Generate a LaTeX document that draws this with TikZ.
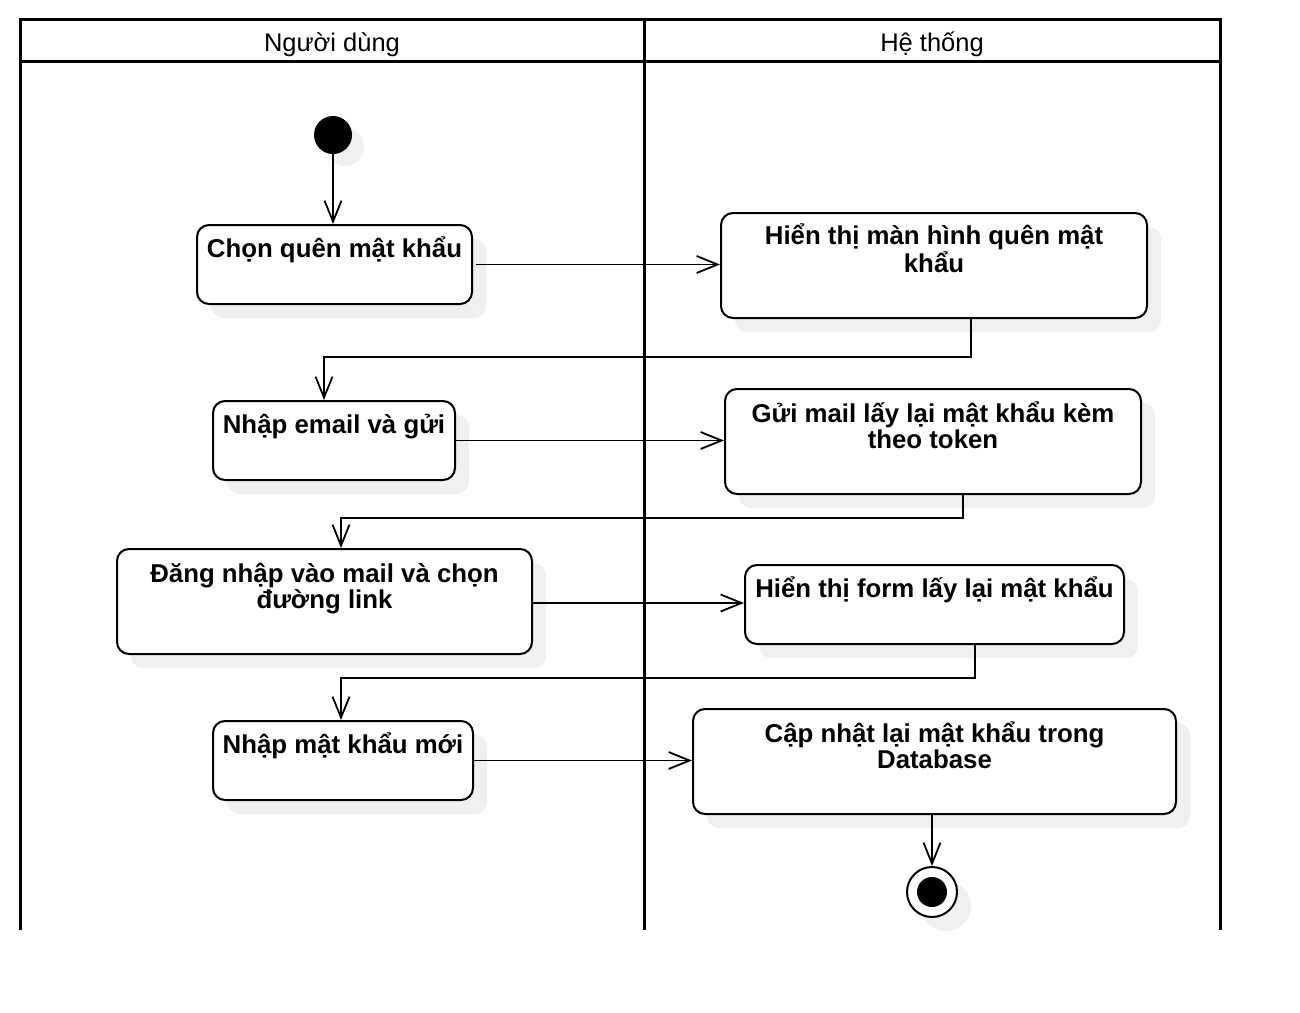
\documentclass[tikz,border=0pt]{standalone}
\usepackage{fontspec}
\setmainfont{Liberation Sans}
\usetikzlibrary{arrows.meta,shadows,calc}
\definecolor{shadowgray}{RGB}{240,240,240}
\tikzset{
  pool/.style={line width=3pt},
  act/.style={draw, line width=2pt, rounded corners=12pt, fill=white, anchor=north west, inner sep=0pt,
    general shadow={fill=shadowgray, shadow xshift=14pt, shadow yshift=-14pt}},
  lbl/.style={font=\bfseries\fontsize{25.8}{26}\selectfont, align=center, inner sep=0pt, anchor=base},
  hdr/.style={font=\fontsize{25.5}{26}\selectfont, inner sep=0pt, anchor=base},
  flow/.style={line width=1.8pt, -{Straight Barb[length=21pt, width=17pt, line width=1.8pt]}},
}
\begin{document}
\begin{tikzpicture}[x=1pt, y=-1pt]
\useasboundingbox (0,0) rectangle (1300,1012);
% pool
\draw[pool] (20,930) -- (20,19) -- (1220,19) -- (1220,930);
\draw[pool] (644,19) -- (644,930);
\draw[pool] (20,61) -- (1220,61);
\node[hdr] (h1) at (332,51) {Người dùng};
\node[hdr] (h2) at (932,51) {Hệ thống};
% start
\node[circle, fill=black, minimum size=38pt, inner sep=0pt,
  general shadow={fill=shadowgray, shadow xshift=12pt, shadow yshift=-12pt}] (start) at (333,135) {};
% activities
\node[act, minimum width=275pt, minimum height=79pt] (a1) at (196,224) {};
\node[lbl] at ($(a1.north)+(0,33)$) {Chọn quên mật khẩu};
\node[act, minimum width=426pt, minimum height=105pt] (b1) at (720,212) {};
\node[lbl] at ($(b1.north)+(0,60)$) {Hiển thị màn hình quên mật\\khẩu};
\node[act, minimum width=242pt, minimum height=79pt] (a2) at (212,400) {};
\node[lbl] at ($(a2.north)+(0,33)$) {Nhập email và gửi};
\node[act, minimum width=416pt, minimum height=105pt] (b2) at (724,388) {};
\node[lbl] at ($(b2.north)+(0,60)$) {Gửi mail lấy lại mật khẩu kèm\\theo token};
\node[act, minimum width=415pt, minimum height=105pt] (a3) at (116,548) {};
\node[lbl] at ($(a3.north)+(0,60)$) {Đăng nhập vào mail và chọn\\đường link};
\node[act, minimum width=379pt, minimum height=79pt] (b3) at (744,564) {};
\node[lbl] at ($(b3.north)+(0,33)$) {Hiển thị form lấy lại mật khẩu};
\node[act, minimum width=260pt, minimum height=79pt] (a4) at (212,720) {};
\node[lbl] at ($(a4.north)+(0,33)$) {Nhập mật khẩu mới};
\node[act, minimum width=483pt, minimum height=105pt] (b4) at (692,708) {};
\node[lbl] at ($(b4.north)+(0,60)$) {Cập nhật lại mật khẩu trong\\Database};
% end
\node[circle, draw, line width=2pt, fill=white, minimum size=50pt, inner sep=0pt,
  general shadow={fill=shadowgray, shadow xshift=14pt, shadow yshift=-14pt}] (end) at (932,892) {};
\node[circle, fill=black, minimum size=30pt, inner sep=0pt] (endin) at (end.center) {};
% flows
\draw[flow] (start) -- (start |- a1.north);
\draw[flow] ([xshift=3pt]a1.east) -- (a1.east -| b1.west);
\draw[flow] ([xshift=37pt]b1.south) -- ++(0,38) -| ([xshift=-10pt]a2.north);
\draw[flow] (a2.east) -- (a2.east -| b2.west);
\draw[flow] ([xshift=30pt]b2.south) -- ++(0,23) -| ([xshift=16.5pt]a3.north);
\draw[flow] ([yshift=-1.5pt]a3.east) -- ([yshift=-1.5pt]a3.east -| b3.west);
\draw[flow] ([xshift=40.5pt]b3.south) -- ++(0,33) -| ([xshift=-2pt]a4.north);
\draw[flow] (a4.east) -- (a4.east -| b4.west);
\draw[flow] (end.north |- b4.south) -- (end.north);
\end{tikzpicture}
\end{document}
